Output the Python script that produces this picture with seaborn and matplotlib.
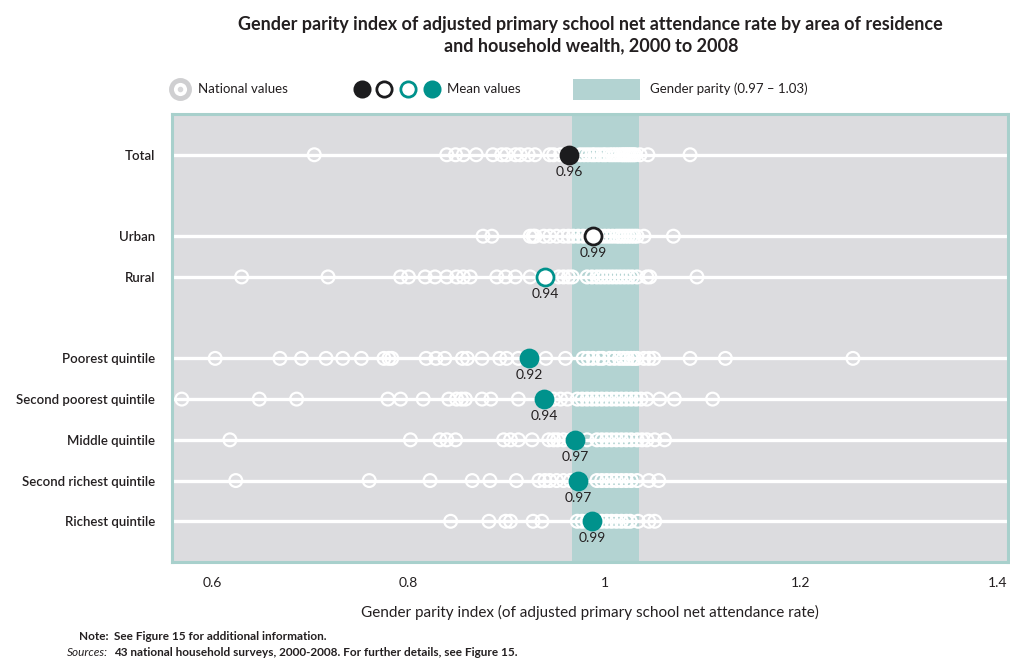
import numpy as np
import pandas as pd
import matplotlib
matplotlib.use("Agg")
import matplotlib.pyplot as plt
from matplotlib.lines import Line2D
from matplotlib.patches import Rectangle
import seaborn as sns

# ---------------- data ----------------
categories = ["Total", "Urban", "Rural", "Poorest quintile", "Second poorest quintile",
              "Middle quintile", "Second richest quintile", "Richest quintile"]
row_pos = [0, 2, 3, 5, 6, 7, 8, 9]

total_vals = [0.704, 0.839, 0.848, 0.856, 0.869, 0.886, 0.895, 0.900, 0.909, 0.914, 0.922,
              0.929, 0.944, 0.948, 0.955, 0.975, 0.979, 0.983, 0.987, 0.990, 0.994, 0.998,
              1.001, 1.005, 1.008, 1.011, 1.014, 1.017, 1.019, 1.021, 1.023, 1.025, 1.027,
              1.029, 1.031, 1.036, 1.044, 1.087]
urban_vals = [0.876, 0.885, 0.924, 0.927, 0.929, 0.938, 0.944, 0.951, 0.958, 0.963, 0.968,
              0.973, 0.978, 0.983, 0.992, 0.996, 1.000, 1.004, 1.008, 1.012, 1.015, 1.018,
              1.021, 1.024, 1.027, 1.030, 1.033, 1.040, 1.070]
rural_vals = [0.630, 0.718, 0.792, 0.800, 0.817, 0.827, 0.839, 0.849, 0.856, 0.863, 0.890,
              0.899, 0.909, 0.924, 0.953, 0.958, 0.963, 0.967, 0.982, 0.987, 0.992, 0.996,
              1.000, 1.004, 1.008, 1.012, 1.016, 1.020, 1.024, 1.028, 1.033, 1.043, 1.046,
              1.094]
poorest_vals = [0.603, 0.669, 0.691, 0.716, 0.733, 0.752, 0.775, 0.780, 0.783, 0.818, 0.828,
                0.837, 0.855, 0.860, 0.875, 0.893, 0.900, 0.912, 0.940, 0.960, 0.978, 0.983,
                0.988, 0.994, 0.998, 1.005, 1.010, 1.015, 1.019, 1.023, 1.027, 1.030, 1.033,
                1.040, 1.045, 1.050, 1.087, 1.123, 1.253]
second_poorest_vals = [0.569, 0.648, 0.686, 0.779, 0.792, 0.815, 0.841, 0.849, 0.854, 0.858,
                       0.875, 0.884, 0.912, 0.948, 0.955, 0.962, 0.972, 0.977, 0.982, 0.987,
                       0.992, 0.997, 1.002, 1.007, 1.012, 1.017, 1.022, 1.027, 1.032, 1.037,
                       1.043, 1.056, 1.071, 1.110]
middle_vals = [0.618, 0.802, 0.832, 0.839, 0.848, 0.897, 0.904, 0.912, 0.926, 0.943, 0.948,
               0.952, 0.958, 0.965, 0.982, 0.992, 0.997, 1.002, 1.007, 1.012, 1.017, 1.022,
               1.027, 1.033, 1.038, 1.043, 1.051, 1.061]
second_richest_vals = [0.624, 0.760, 0.822, 0.865, 0.883, 0.910, 0.933, 0.939, 0.944, 0.951,
                       0.958, 0.965, 0.992, 0.997, 1.002, 1.007, 1.012, 1.017, 1.022, 1.027,
                       1.033, 1.045, 1.055]
richest_vals = [0.843, 0.882, 0.899, 0.904, 0.927, 0.936, 0.972, 0.977, 0.982, 0.992, 0.997,
                1.002, 1.007, 1.012, 1.017, 1.022, 1.026, 1.034, 1.045, 1.051]

mean_values = [0.964, 0.988, 0.939, 0.923, 0.938, 0.970, 0.973, 0.987]
parity_range = [0.967, 1.035]
x_ticks = [0.6, 0.8, 1.0, 1.2, 1.4]
x_tick_labels = ["0.6", "0.8", "1", "1.2", "1.4"]

all_vals = [total_vals, urban_vals, rural_vals, poorest_vals, second_poorest_vals,
            middle_vals, second_richest_vals, richest_vals]

# ---------------- style ----------------
BG = "#dcdcdf"
BAND = "#b3d3d2"
FRAME = "#a8d0cc"
TEAL = "#00928c"
DARK = "#1c1c1e"
TXT = "#231f20"

sns.set_theme(style="white")
plt.rcParams["font.family"] = ["Lato", "DejaVu Sans"]

df = pd.DataFrame({
    "value": [v for vals in all_vals for v in vals],
    "pos": [p for p, vals in zip(row_pos, all_vals) for _ in vals],
})
means_df = pd.DataFrame({"value": mean_values, "pos": row_pos, "cat": categories})

fig = plt.figure(figsize=(10.1, 6.58), dpi=100)
ax = fig.add_axes([0.1703, 0.1459, 0.998 - 0.1703, 0.8267 - 0.1459])
ax.set_facecolor(BG)

ax.axvspan(parity_range[0], parity_range[1], color=BAND, zorder=0, lw=0)
for p in row_pos:
    ax.axhline(p, color="white", lw=2.4, zorder=1)

sns.scatterplot(data=df, x="value", y="pos", ax=ax, s=85, marker="o",
                facecolors="none", edgecolor="white", linewidth=1.6, zorder=3, legend=False)

mean_face = [DARK, "white", "white", TEAL, TEAL, TEAL, TEAL, TEAL]
mean_edge = [DARK, DARK, TEAL, TEAL, TEAL, TEAL, TEAL, TEAL]
for i in range(len(categories)):
    sub = means_df.iloc[[i]]
    sns.scatterplot(data=sub, x="value", y="pos", ax=ax, s=150, marker="o",
                    color=mean_face[i], edgecolor=mean_edge[i], linewidth=2.0,
                    zorder=5, legend=False)
    ax.text(mean_values[i], row_pos[i] + 0.42, f"{mean_values[i]:.2f}", ha="center",
            va="center", fontsize=10, color=TXT, zorder=6)

ax.set_xlim(0.559, 1.411)
ax.set_ylim(10, -1)
ax.set_yticks(row_pos)
ax.set_yticklabels(categories, fontsize=9.5, color=TXT, fontweight="semibold")
ax.set_xticks(x_ticks)
ax.set_xticklabels(x_tick_labels, fontsize=10, color=TXT)
ax.tick_params(axis="x", direction="out", length=8, width=1.5, color=FRAME, pad=3)
ax.tick_params(axis="y", direction="out", length=6, width=1.5, color=FRAME, pad=6)
ax.set_xlabel("Gender parity index (of adjusted primary school net attendance rate)",
              fontsize=11, color=TXT, labelpad=11)
ax.set_ylabel("")
for sp in ax.spines.values():
    sp.set_color(FRAME)
    sp.set_linewidth(2.2)
    sp.set_visible(True)

# ---------------- title ----------------
fig.text(0.585, 0.975, "Gender parity index of adjusted primary school net attendance rate by area of residence\nand household wealth, 2000 to 2008",
         ha="center", va="top", fontsize=13, fontweight="bold", color=TXT, linespacing=1.25)

# ---------------- legend ----------------
W, H = 1010.0, 658.0
ly = 1 - 89 / H
fig.add_artist(Line2D([180 / W], [ly], marker="o", markersize=13, markerfacecolor="white",
                      markeredgecolor="#cfcfd1", markeredgewidth=3.5, transform=fig.transFigure))
fig.add_artist(Line2D([180 / W], [ly], marker="o", markersize=3, markerfacecolor="#d8d8da",
                      markeredgecolor="#d8d8da", transform=fig.transFigure))
fig.text(198 / W, ly, "National values", ha="left", va="center", fontsize=9.5, color=TXT)
for xp, fc, ec in [(362, DARK, DARK), (384, "white", DARK), (408, "white", TEAL), (432, TEAL, TEAL)]:
    fig.add_artist(Line2D([xp / W], [ly], marker="o", markersize=11, markerfacecolor=fc,
                          markeredgecolor=ec, markeredgewidth=2.0, transform=fig.transFigure))
fig.text(447 / W, ly, "Mean values", ha="left", va="center", fontsize=9.5, color=TXT)
fig.add_artist(Rectangle((573 / W, 1 - 100 / H), 67 / W, 21 / H, facecolor=BAND,
                         edgecolor="none", transform=fig.transFigure))
fig.text(650 / W, ly, "Gender parity (0.97 \u2013 1.03)", ha="left", va="center",
         fontsize=9.5, color=TXT)

# ---------------- notes ----------------
fig.text(108 / W, 1 - 636 / H, "Note:", ha="right", va="center", fontsize=8.5,
         fontweight="bold", color=TXT)
fig.text(114 / W, 1 - 636 / H, "See Figure 15 for additional information.", ha="left",
         va="center", fontsize=8.5, fontweight="bold", color=TXT)
fig.text(108 / W, 1 - 652 / H, "Sources:", ha="right", va="center", fontsize=8.5,
         fontstyle="italic", color=TXT)
fig.text(114 / W, 1 - 652 / H, "43 national household surveys, 2000-2008. For further details, see Figure 15.",
         ha="left", va="center", fontsize=8.5, fontweight="bold", color=TXT)

fig.savefig("out.png", dpi=100)
